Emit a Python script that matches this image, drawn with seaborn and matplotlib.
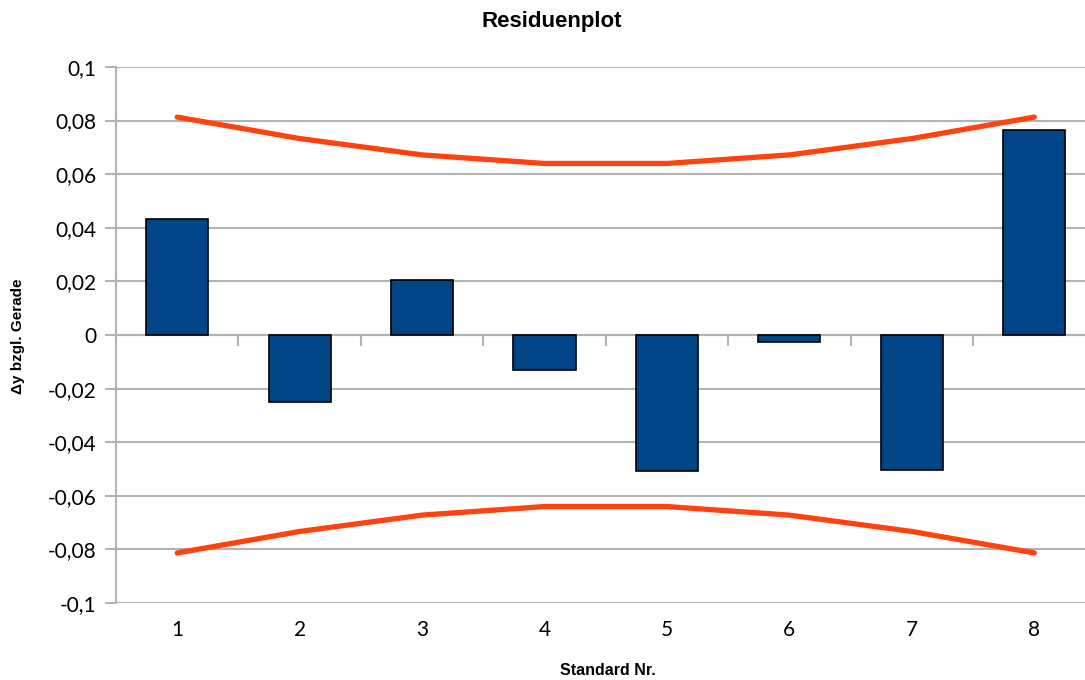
import matplotlib
matplotlib.use("Agg")
import matplotlib.pyplot as plt
import matplotlib.ticker as mticker
import seaborn as sns
import pandas as pd
import numpy as np

# residuals per standard and the confidence band
standards = ["1", "2", "3", "4", "5", "6", "7", "8"]
residuals = [0.0433, -0.0250, 0.0205, -0.0130, -0.0507, -0.0025, -0.0504, 0.0765]
band_upper = [0.0813, 0.0733, 0.0672, 0.0640, 0.0640, 0.0672, 0.0733, 0.0813]
band_lower = [-v for v in band_upper]

df = pd.DataFrame({"Standard": standards, "Residuum": residuals})

sns.set_theme(style="white")
plt.rcParams["font.family"] = ["Lato", "DejaVu Sans"]
plt.rcParams["text.color"] = "black"

grid_col = "#b3b3b3"
fig = plt.figure(figsize=(10.85, 6.8), dpi=100)
ax = fig.add_axes([0.1069, 0.1132, 0.9028, 0.7883])

sns.barplot(data=df, x="Standard", y="Residuum", color="#004586", saturation=1,
            width=0.507, edgecolor="black", linewidth=1.2, ax=ax, zorder=3)

pos = np.arange(len(standards))
sns.lineplot(x=pos, y=band_upper, color="#ff420e", linewidth=3.8, ax=ax, zorder=4)
sns.lineplot(x=pos, y=band_lower, color="#ff420e", linewidth=3.8, ax=ax, zorder=4)
for ln in ax.lines:
    ln.set_solid_capstyle("round")

ax.set_xlim(-0.5, len(standards) - 0.5)
ax.set_ylim(-0.1, 0.1)
ax.set_yticks(np.arange(-0.1, 0.1001, 0.02))
ax.yaxis.set_major_formatter(mticker.FuncFormatter(
    lambda v, p: "0" if abs(v) < 1e-9 else f"{v:.2f}".rstrip("0").replace(".", ",")))
ax.grid(axis="y", color=grid_col, linewidth=1.5, zorder=0)
ax.tick_params(axis="y", length=8, width=1.5, color=grid_col, labelsize=15, pad=6,
               left=True, labelcolor="black")

# category axis sits on zero line, tick marks between categories
for s in ["top", "right"]:
    ax.spines[s].set_visible(False)
ax.spines["left"].set_color(grid_col)
ax.spines["left"].set_linewidth(1.5)
ax.spines["bottom"].set_position(("data", 0))
ax.spines["bottom"].set_color(grid_col)
ax.spines["bottom"].set_linewidth(1.5)
ax.spines["bottom"].set_zorder(2)
ax.set_xticks(pos)
ax.set_xticks(np.arange(0.5, len(standards) - 0.5, 1), minor=True)
ax.tick_params(axis="x", which="major", length=0, labelbottom=False)
ax.tick_params(axis="x", which="minor", length=8, width=1.5, color=grid_col, bottom=True)

sec = ax.secondary_xaxis(0)
sec.set_xticks(pos)
sec.set_xticklabels(standards)
sec.tick_params(length=0, labelsize=15, pad=12, labelcolor="black")
sec.spines["bottom"].set_visible(False)

ax.set_xlabel("")
ax.set_ylabel("")
lab_font = ["Liberation Sans", "DejaVu Sans"]
fig.text(0.56, 0.0135, "Standard Nr.", ha="center", va="center", fontsize=11.5,
         fontweight="bold", family=lab_font, color="black")
fig.text(0.017, 0.505, "Δy bzgl. Gerade", ha="center", va="center", rotation=90,
         fontsize=11, fontweight="bold", family=lab_font, color="black")
fig.text(0.5085, 0.968, "Residuenplot", ha="center", va="center", fontsize=16,
         fontweight="bold", family=lab_font, color="black")

fig.savefig("out.png", dpi=100)
